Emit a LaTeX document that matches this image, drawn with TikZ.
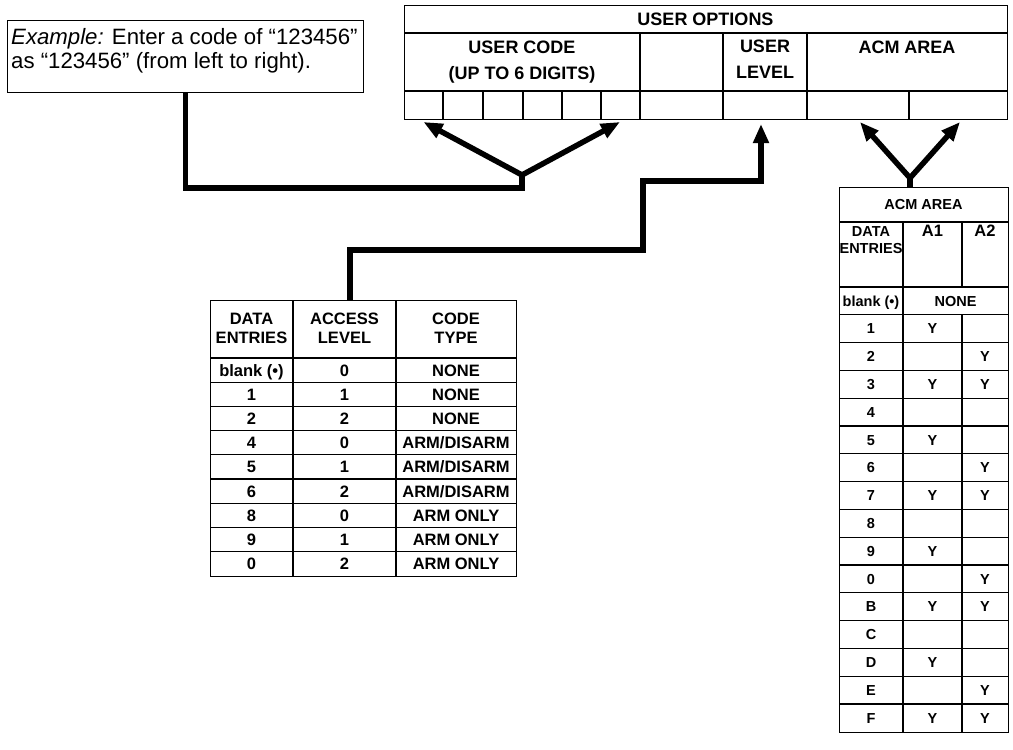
\documentclass[tikz,border=0pt]{standalone}
\usepackage{fontspec}
\setmainfont{Liberation Sans}
\usetikzlibrary{arrows.meta}
\tikzset{
  grid/.style={line width=1.1pt},
  conn/.style={line width=5.5pt, line join=miter},
  bigtip/.tip={Triangle[length=19pt,width=15pt]},
  hd/.style={font=\bfseries\fontsize{18}{26}\selectfont, align=center, inner sep=0pt},
  th/.style={font=\bfseries\fontsize{16.5}{19}\selectfont, align=center, inner sep=0pt},
  td/.style={font=\bfseries\fontsize{16.5}{19}\selectfont, inner sep=0pt, text height=11.8pt, text depth=0pt},
  rth/.style={font=\bfseries\fontsize{14.5}{17}\selectfont, align=center, inner sep=0pt},
  rtd/.style={font=\bfseries\fontsize{14.5}{17}\selectfont, inner sep=0pt, text height=10.4pt, text depth=0pt},
  extext/.style={font=\fontsize{22.2}{24}\selectfont, inner sep=0pt, anchor=base west},
  box/.style={draw, grid, inner sep=0pt, anchor=north west}
}
\begin{document}
\begin{tikzpicture}[x=1pt,y=-1pt]
\useasboundingbox (0,0) rectangle (1013,750);

% ---------- example box ----------
\node[box, minimum width=356pt, minimum height=72pt] (ex) at (7,20) {};
\node[extext] (ex1) at (11,44) {\textit{Example:} Enter a code of “123456”};
\node[extext] (ex2) at (11,68) {as “123456” (from left to right).};

% ---------- user options table ----------
\node[box, minimum width=603pt, minimum height=114pt] (uo) at (404,5) {};
\draw[grid] (404,33) -- (1007,33);
\draw[grid] (404,91) -- (1007,91);
\foreach \x in {640,723,807} \draw[grid] (\x,33) -- (\x,119);
\foreach \x in {443,483,523,562,601,909} \draw[grid] (\x,91) -- (\x,119);
\node[hd] (uoT) at (705.5,19) {USER OPTIONS};
\node[hd] (ucT) at (522,62.5) {USER CODE\\(UP TO 6 DIGITS)};
\node[hd] (ulT) at (765,59) {USER\\LEVEL};
\node[hd] (acT) at (907,47) {ACM AREA};

% ---------- left table ----------
\node[box, minimum width=306pt, minimum height=275.8pt] (lt) at (210,300) {};
\foreach \x in {293,396} \draw[grid] (\x,300) -- (\x,575.8);
\foreach \k in {0,...,8} \draw[grid] (210,{358+24.2*\k}) -- (516,{358+24.2*\k});
\node[th] (lh1) at (251.5,328) {DATA\\ENTRIES};
\node[th] (lh2) at (344.5,328) {ACCESS\\LEVEL};
\node[th] (lh3) at (456,328) {CODE\\TYPE};
\foreach \a/\b/\c [count=\i from 0] in {{blank (•)}/0/NONE, 1/1/NONE, 2/2/NONE,
   4/0/ARM\slash DISARM, 5/1/ARM\slash DISARM, 6/2/ARM\slash DISARM,
   8/0/ARM ONLY, 9/1/ARM ONLY, 0/2/ARM ONLY}{
  \pgfmathsetmacro{\yy}{358+24.2*\i+12.1}
  \node[td] (la\i) at (251.5,\yy) {\a};
  \node[td] (lb\i) at (344.5,\yy) {\b};
  \node[td] (lc\i) at (456,\yy) {\c};
}

% ---------- right table ----------
\node[box, minimum width=169pt, minimum height=544.8pt] (rt) at (839,187) {};
\draw[grid] (839,222) -- (1008,222);
\draw[grid] (903,222) -- (903,731.8);
\draw[grid] (962,222) -- (962,287);
\draw[grid] (962,314.8) -- (962,731.8);
\foreach \k in {0,...,15} \draw[grid] (839,{287+27.8*\k}) -- (1008,{287+27.8*\k});
\node[rth] (rtT) at (923.5,204.5) {ACM AREA};
\node[rth] (rh1) at (871,240) {DATA\\ENTRIES};
\node[th] (rh2) at (932.5,231) {A1};
\node[th] (rh3) at (985,231) {A2};
\node[rtd] (rb0) at (871,300.9) {blank (•)};
\node[rtd] (rn0) at (955.5,300.9) {NONE};
\foreach \lab/\p/\q [count=\i] in {1/1/0, 2/0/1, 3/1/1, 4/0/0, 5/1/0, 6/0/1, 7/1/1, 8/0/0,
   9/1/0, 0/0/1, B/1/1, C/0/0, D/1/0, E/0/1, F/1/1}{
  \pgfmathsetmacro{\yy}{287+27.8*\i+13.9}
  \node[rtd] (rl\i) at (871,\yy) {\lab};
  \ifnum\p=1 \node[rtd] (rp\i) at (932.5,\yy) {Y};\fi
  \ifnum\q=1 \node[rtd] (rq\i) at (985,\yy) {Y};\fi
}

% ---------- connectors ----------
\coordinate (t1) at (423.5,122);
\coordinate (t6) at (620,122);
\coordinate (j1) at (522,175);
\coordinate (b1) at (522,188);
\draw[conn] (ex.south) |- (b1) -- (j1);
\draw[conn, bigtip-bigtip] (t1) -- (j1) -- (t6);

\coordinate (c2a) at (350,300);
\coordinate (c2b) at (643,250);
\coordinate (c2c) at (761,181);
\coordinate (t8) at (761,124);
\draw[conn, -bigtip] (c2a) |- (c2b) |- (c2c) -- (t8);

\coordinate (t9) at (860,122);
\coordinate (t10) at (960,122);
\coordinate (j3) at (910,178);
\coordinate (c3) at (910,187);
\draw[conn] (c3) -- (j3);
\draw[conn, bigtip-bigtip] (t9) -- (j3) -- (t10);
\end{tikzpicture}
\end{document}
